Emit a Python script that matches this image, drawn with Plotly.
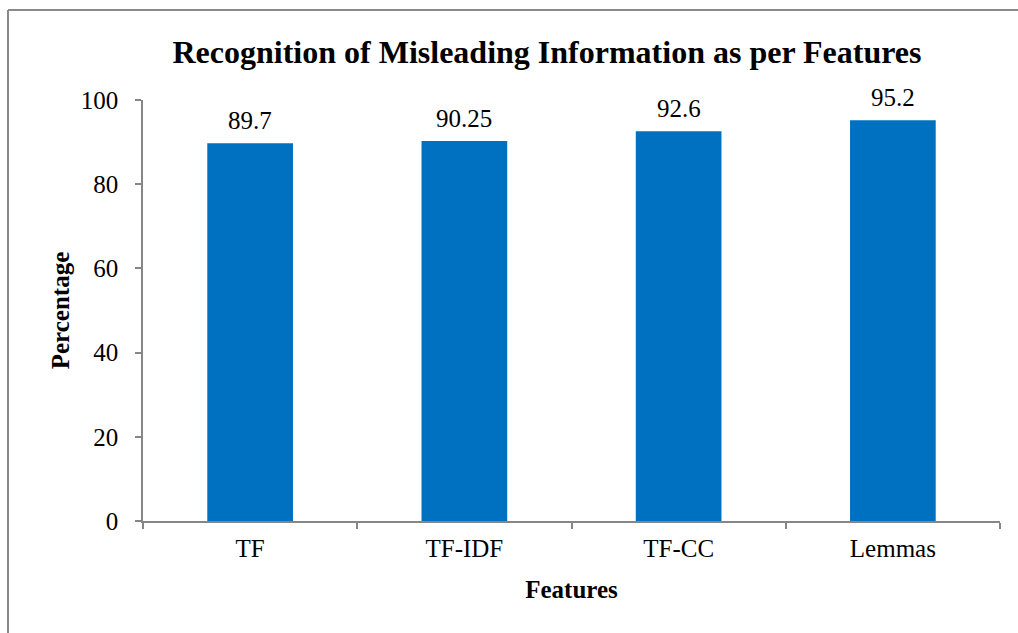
import plotly.graph_objects as go

categories = ["TF", "TF-IDF", "TF-CC", "Lemmas"]
values = [89.7, 90.25, 92.6, 95.2]
labels = ["89.7", "90.25", "92.6", "95.2"]
y_ticks = [0, 20, 40, 60, 80, 100]

FONT = "Liberation Serif, Times New Roman, serif"

L, R, T, B = 143, 18, 100, 112
W, H = 1018, 633
pw, ph = W - L - R, H - T - B

def px_x(px):
    return (px - L) / pw

def px_y(py):
    return (H - B - py) / ph

fig = go.Figure()
fig.add_trace(go.Bar(
    x=categories, y=values,
    marker=dict(color="#0070C0", line=dict(width=0)),
    width=0.4,
    cliponaxis=False,
    hoverinfo="skip",
))

for c, v, t in zip(categories, values, labels):
    fig.add_annotation(x=c, y=v, text=t, showarrow=False, yanchor="bottom",
                       yshift=7, font=dict(family=FONT, size=25, color="black"))

border = "#8a8a8a"
fig.add_shape(type="line", xref="paper", yref="paper",
              x0=px_x(8), x1=px_x(8), y0=px_y(640), y1=px_y(10),
              line=dict(color=border, width=2))
fig.add_shape(type="line", xref="paper", yref="paper",
              x0=px_x(8), x1=px_x(1030), y0=px_y(10), y1=px_y(10),
              line=dict(color=border, width=2))

fig.update_layout(
    width=W, height=H,
    margin=dict(l=L, r=R, t=T, b=B),
    paper_bgcolor="white", plot_bgcolor="white",
    showlegend=False,
    font=dict(family=FONT, color="black"),
    title=dict(text="<b>Recognition of Misleading Information as per Features</b>",
               x=547 / W, xanchor="center",
               y=1 - 52 / H, yanchor="middle",
               font=dict(family=FONT, size=32, color="black")),
    xaxis=dict(
        type="category",
        showline=True, linecolor="#868686", linewidth=1.5,
        ticks="outside", ticklen=6, tickcolor="#868686", tickwidth=1.5,
        tickson="boundaries",
        showgrid=False, zeroline=False,
        tickfont=dict(family=FONT, size=25, color="black"),
        ticklabelstandoff=4,
        title=dict(text="<b>Features</b>", standoff=20,
                   font=dict(family=FONT, size=25, color="black")),
    ),
    yaxis=dict(
        range=[0, 100],
        tickvals=y_ticks,
        showline=True, linecolor="#868686", linewidth=1.5,
        ticks="outside", ticklen=6, tickcolor="#868686", tickwidth=1.5,
        showgrid=False, zeroline=False,
        tickfont=dict(family=FONT, size=25, color="black"),
        ticklabelstandoff=12,
        title=dict(text="<b>Percentage</b>", standoff=4,
                   font=dict(family=FONT, size=25, color="black")),
    ),
)

fig.write_html("out.html", config={"displayModeBar": False},
               post_script="document.body.style.margin='0';")
